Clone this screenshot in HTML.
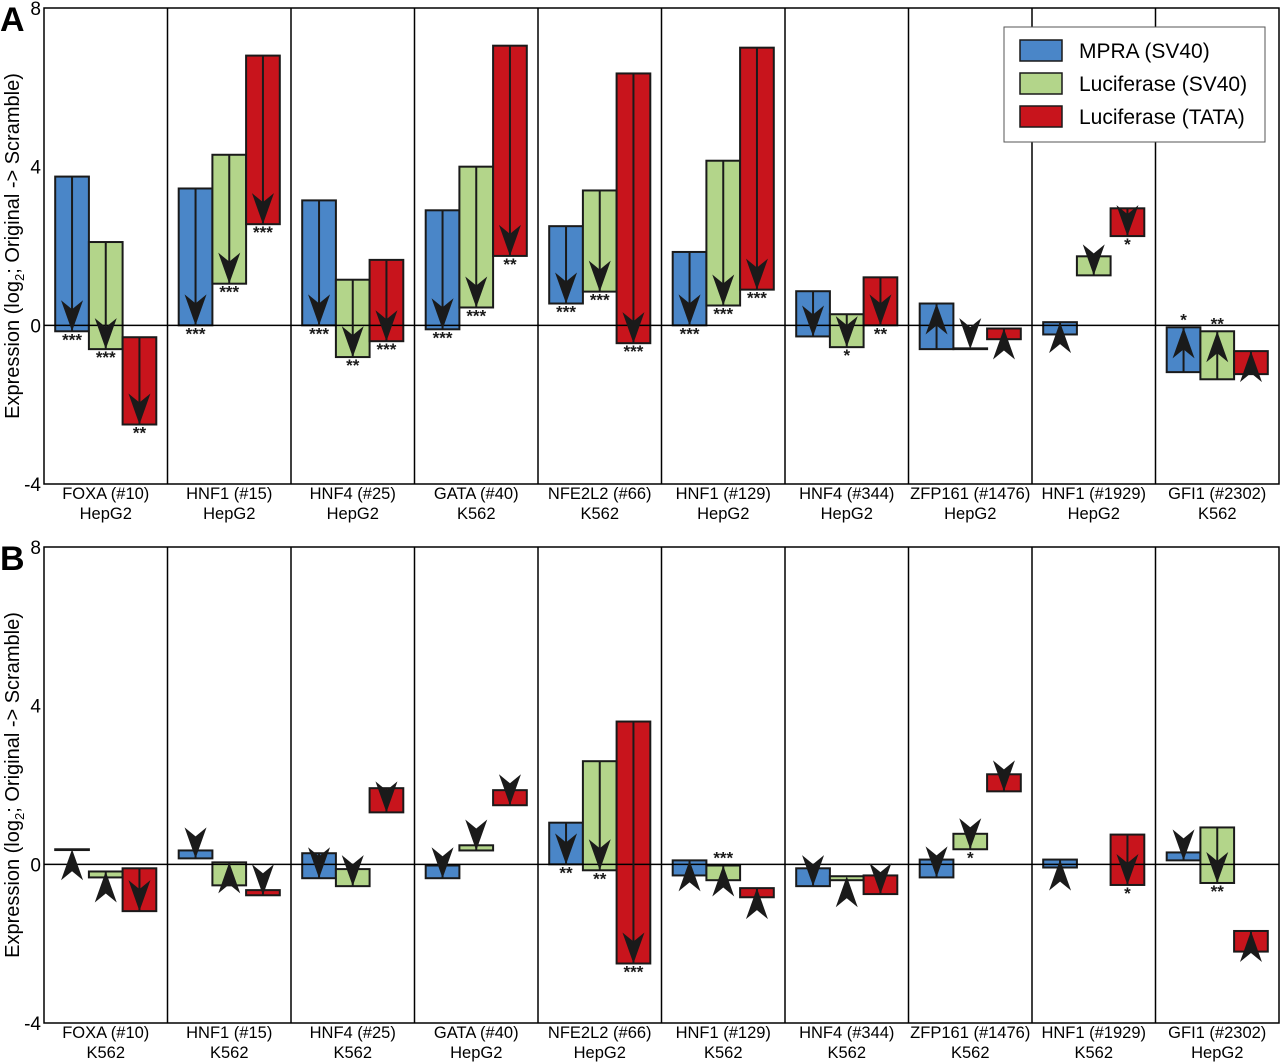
<!DOCTYPE html>
<html><head><meta charset="utf-8"><style>
body{margin:0;background:#fff;}
svg{display:block;font-family:"Liberation Sans",sans-serif;}
</style></head><body>
<svg id="chart" width="1280" height="1062" viewBox="0 0 1280 1062"></svg>
<script>
const categoriesA = ["FOXA (#10)|HepG2","HNF1 (#15)|HepG2","HNF4 (#25)|HepG2","GATA (#40)|K562","NFE2L2 (#66)|K562","HNF1 (#129)|HepG2","HNF4 (#344)|HepG2","ZFP161 (#1476)|HepG2","HNF1 (#1929)|HepG2","GFI1 (#2302)|K562"];
const categoriesB = ["FOXA (#10)|K562","HNF1 (#15)|K562","HNF4 (#25)|K562","GATA (#40)|HepG2","NFE2L2 (#66)|HepG2","HNF1 (#129)|K562","HNF4 (#344)|K562","ZFP161 (#1476)|K562","HNF1 (#1929)|K562","GFI1 (#2302)|HepG2"];
const seriesNames = ["MPRA (SV40)","Luciferase (SV40)","Luciferase (TATA)"];
// [original, scramble] per group per series
const mpraA = [[3.75,-0.15],[3.45,0],[3.15,0],[2.9,-0.1],[2.5,0.55],[1.85,0],[0.86,-0.28],[-0.6,0.55],[-0.23,0.08],[-1.18,-0.05]];
const lucSvA = [[2.1,-0.6],[4.3,1.05],[1.15,-0.8],[4.0,0.45],[3.4,0.85],[4.15,0.5],[0.28,-0.55],[-0.58,-0.6],[1.74,1.26],[-1.36,-0.15]];
const lucTataA = [[-0.3,-2.5],[6.8,2.55],[1.65,-0.4],[7.05,1.75],[6.35,-0.45],[7.0,0.9],[1.21,0],[-0.35,-0.08],[2.95,2.25],[-1.23,-0.65]];
const mpraB = [[0.36,0.38],[0.35,0.15],[0.28,-0.35],[-0.03,-0.35],[1.05,0],[-0.28,0.1],[-0.1,-0.55],[0.12,-0.33],[-0.08,0.12],[0.3,0.1]];
const lucSvB = [[-0.33,-0.18],[-0.53,0.05],[-0.12,-0.55],[0.48,0.35],[2.6,-0.15],[-0.4,-0.03],[-0.4,-0.3],[0.77,0.38],null,[0.93,-0.47]];
const lucTataB = [[-0.1,-1.18],[-0.65,-0.78],[1.92,1.31],[1.87,1.49],[3.6,-2.5],[-0.83,-0.6],[-0.28,-0.75],[2.27,1.84],[0.75,-0.52],[-2.2,-1.68]];
const starsA = [["***","***","**"],["***","***","***"],["***","**","***"],["***","***","**"],["***","***","***"],["***","***","***"],["","*","**"],["","",""],["","","*"],["*","**",""]];
const starsB = [["","",""],["","",""],["","",""],["","",""],["**","**","***"],["","***",""],["","",""],["","*",""],["","","*"],["","**",""]];
const yTicks = [8,4,0,-4];
const colors = ["#4a86c8","#b3d58a","#c8141c"];

const svg = document.getElementById('chart');
const NS = "http://www.w3.org/2000/svg";
function mk(tag, attrs, parent){const e=document.createElementNS(NS,tag);for(const k in attrs)e.setAttribute(k,attrs[k]);(parent||svg).appendChild(e);return e;}

const X0=44, X1=1279, nG=10, gW=(X1-X0)/nG, barW=33.7, pad=(gW-3*barW)/2;
function xG(i){return X0+i*gW;}

function panel(top, bottom, letter, cats, series, stars, pname){
  const g = mk('g',{});
  
  
  const y = v => top + (8 - v)/12*(bottom-top);
  series.forEach((ser, s)=>{
    ser.forEach((d,i)=>{
      if(!d) return;
      const x = xG(i)+pad+s*barW;
      const lo=Math.min(d[0],d[1]), hi=Math.max(d[0],d[1]);
      const r = mk('rect',{x:x,y:y(hi),width:barW,height:Math.max(0,y(lo)-y(hi)),fill:colors[s],stroke:'#1a1a1a','stroke-width':2},g);
      
      
    });
  });
  mk('line',{x1:X0,x2:X1,y1:y(0),y2:y(0),stroke:'#000','stroke-width':1.5},g);
  for(let i=1;i<nG;i++){mk('line',{x1:xG(i),x2:xG(i),y1:top,y2:bottom,stroke:'#000','stroke-width':1.5},g);}
  mk('rect',{x:X0,y:top,width:X1-X0,height:bottom-top,fill:'none',stroke:'#000','stroke-width':1.5},g);
  series.forEach((ser,s)=>{
    ser.forEach((d,i)=>{
      if(!d) return;
      const cx = xG(i)+pad+s*barW+barW/2;
      const ys=y(d[0]), ye=y(d[1]);
      const dir = ye>=ys?1:-1;
      if(Math.abs(ye-ys)>4) mk('line',{x1:cx,x2:cx,y1:ys,y2:ye,stroke:'#1a1a1a','stroke-width':2},g);
      const a = mk('polygon',{points:`${cx},${ye} ${cx-11},${ye-dir*31} ${cx},${ye-dir*22} ${cx+11},${ye-dir*31}`,fill:'#1a1a1a'},g);
      
      
      const st = stars[i][s];
      if(st){
        const t = mk('text',{x:cx,y:ye+(dir>0?14:-2),'text-anchor':'middle','font-size':17,'font-weight':'bold',fill:'#1a1a1a'},g);
        t.textContent=st;
        
        
      }
    });
  });
  yTicks.forEach(v=>{
    const t=mk('text',{x:X0-3,y:y(v)+7,'text-anchor':'end','font-size':19,fill:'#000'},g);
    t.textContent=v;
    
    
  });
  cats.forEach((c,i)=>{
    const parts=c.split('|');
    const cx=xG(i)+gW/2;
    parts.forEach((p,k)=>{
      const t=mk('text',{x:cx,y:bottom+15+k*20,'text-anchor':'middle','font-size':16.5,fill:'#000'},g);
      t.textContent=p;
      
      
    });
  });
  const L=mk('text',{x:0,y:top+23,'font-size':34,'font-weight':'bold',fill:'#000'},g);
  L.textContent=letter;
  
  
  const cy=(top+bottom)/2;
  const yt=mk('text',{x:0,y:0,transform:`translate(19,${cy}) rotate(-90)`,'text-anchor':'middle','font-size':20,fill:'#000'},g);
  yt.innerHTML='Expression (log<tspan font-size="13" dy="5">2</tspan><tspan dy="-5">; Original -&gt; Scramble)</tspan>';
  
  
}
panel(8,484,'A',categoriesA,[mpraA,lucSvA,lucTataA],starsA,'panel-a');
panel(547,1023,'B',categoriesB,[mpraB,lucSvB,lucTataB],starsB,'panel-b');

const lg=mk('g',{});


mk('rect',{x:1004,y:27,width:261,height:115,fill:'#fff',stroke:'#555','stroke-width':1},lg);
seriesNames.forEach((n,s)=>{
  const yy=40+s*33;
  const r=mk('rect',{x:1020,y:yy,width:42,height:21,fill:colors[s],stroke:'#1a1a1a','stroke-width':1.5},lg);
  
  
  const t=mk('text',{x:1079,y:yy+18,'font-size':21,fill:'#000'},lg);
  t.textContent=n;
  
  
});
</script>
</body></html>
